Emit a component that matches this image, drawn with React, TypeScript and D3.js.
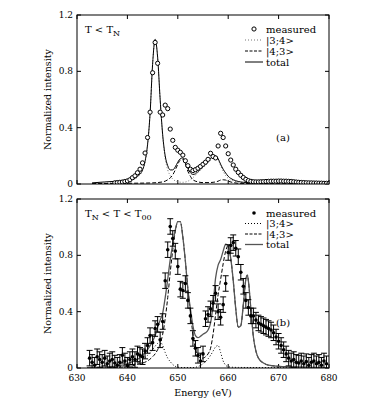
import React from "react";
import * as d3 from "d3";

// ---------- DATA ----------
const xTicks = [630, 640, 650, 660, 670, 680];
const yTicks = [0, 0.4, 0.8, 1.2];
const seriesNames = ["measured", "|3;4>", "|4;3>", "total"];

// Panel (a): T < T_N
const measuredA: [number, number][] = [
  [637.5,0.008],[638,0.01],[638.5,0.012],[639,0.014],[639.5,0.018],[640,0.022],[640.5,0.03],[641,0.045],
  [641.5,0.058],[642,0.08],[642.5,0.105],[643,0.15],[643.5,0.22],[644,0.33],[644.5,0.51],[645,0.79],
  [645.5,1.005],[646,0.857],[646.5,0.51],[647,0.49],[647.5,0.56],[648,0.535],[648.5,0.39],[649,0.31],
  [649.5,0.26],[650,0.24],[650.5,0.225],[651,0.205],[651.5,0.165],[652,0.13],[652.5,0.105],[653,0.095],
  [653.5,0.102],[654,0.112],[654.5,0.125],[655,0.14],[655.5,0.155],[656,0.175],[656.5,0.218],[657,0.195],
  [657.5,0.185],[658,0.27],[658.5,0.36],[659,0.33],[659.5,0.27],[660,0.215],[660.5,0.17],[661,0.135],
  [661.5,0.105],[662,0.082],[662.5,0.062],[663,0.046],[663.5,0.033],[664,0.024],[664.5,0.019],[665,0.016],
  [665.5,0.015],[666,0.015],[666.5,0.016],[667,0.017],[667.5,0.018],[668,0.019],[668.5,0.02],[669,0.02],
  [669.5,0.02],[670,0.021],[670.5,0.021],[671,0.02],[671.5,0.02],[672,0.019],[672.5,0.018],[673,0.016],
  [673.5,0.014],[674,0.012],[674.5,0.011],[675,0.01],[675.5,0.009],[676,0.008],[676.5,0.008],[677,0.007],
  [677.5,0.007],[678,0.006],[678.5,0.006],[679,0.005],[679.5,0.005],[680,0.005],
];
const ket34A: [number, number][] = [
  [633,0.005],[638,0.01],[640,0.018],[641,0.028],[642,0.048],[643,0.095],[643.5,0.155],[644,0.275],
  [644.5,0.5],[645,0.85],[645.5,1.025],[646,0.9],[646.5,0.6],[647,0.34],[647.5,0.18],[648,0.1],
  [648.5,0.06],[649,0.035],[649.5,0.022],[650,0.015],[651,0.012],[652,0.02],[653,0.045],[654,0.08],
  [655,0.115],[656,0.15],[656.5,0.17],[657,0.185],[657.5,0.19],[658,0.172],[658.5,0.13],[659,0.09],
  [659.5,0.06],[660,0.04],[661,0.022],[662,0.014],[664,0.008],[668,0.012],[671,0.016],[675,0.01],[680,0.005],
];
const ket43A: [number, number][] = [
  [633,0.003],[640,0.005],[645,0.008],[647,0.015],[648,0.03],[649,0.065],[649.5,0.1],[650,0.14],
  [650.5,0.17],[651,0.175],[651.5,0.14],[652,0.09],[652.5,0.055],[653,0.03],[654,0.015],[655,0.01],
  [656,0.01],[657,0.012],[658,0.02],[658.5,0.028],[659,0.03],[659.5,0.028],[660,0.02],[661,0.01],
  [662,0.005],[665,0.003],[680,0.002],
];
const totalA: [number, number][] = [
  [633,0.008],[638,0.02],[640,0.023],[641,0.033],[642,0.055],[643,0.1],[643.5,0.16],[644,0.28],
  [644.5,0.5],[645,0.85],[645.5,1.027],[646,0.9],[646.5,0.6],[647,0.35],[647.5,0.2],[648,0.13],
  [648.5,0.1],[649,0.1],[649.5,0.122],[650,0.155],[650.5,0.18],[651,0.185],[651.5,0.15],[652,0.11],
  [652.5,0.08],[653,0.068],[653.5,0.072],[654,0.088],[654.5,0.105],[655,0.125],[655.5,0.145],[656,0.162],
  [656.5,0.182],[657,0.197],[657.5,0.2],[658,0.18],[658.5,0.14],[659,0.105],[659.5,0.078],[660,0.055],
  [660.5,0.04],[661,0.03],[662,0.018],[663,0.012],[664,0.01],[666,0.012],[668,0.016],[670,0.019],
  [672,0.018],[674,0.014],[676,0.01],[680,0.006],
];

// Panel (b): T_N < T < T_00
const measuredB: [number, number][] = [
  [632.5,0.07],[633,0.04],[633.5,0.02],[634,0.08],[634.5,0.06],[635,0.04],[635.5,0.07],[636,0.03],
  [636.5,0.05],[637,0.06],[637.5,0.035],[638,0.02],[638.5,0.04],[639,0.09],[639.5,0.05],[640,0.02],
  [640.5,0.06],[641,0.08],[641.5,0.06],[642,0.1],[642.5,0.09],[643,0.08],[643.5,0.12],[644,0.16],
  [644.5,0.23],[645,0.18],[645.5,0.28],[646,0.31],[646.5,0.2],[647,0.33],[647.5,0.62],[648,0.84],
  [648.5,1.005],[649,0.92],[649.5,0.83],[650,0.72],[650.5,0.56],[651,0.55],[651.5,0.6],[652,0.48],
  [652.5,0.37],[653,0.21],[653.5,0.14],[654,0.09],[654.5,0.05],[655,0.1],[655.5,0.35],[656,0.38],
  [656.5,0.42],[657,0.46],[657.5,0.53],[658,0.4],[658.5,0.36],[659,0.45],[659.5,0.6],[660,0.82],
  [660.5,0.87],[661,0.89],[661.5,0.85],[662,0.79],[662.5,0.68],[663,0.58],[663.5,0.48],[664,0.43],
  [664.5,0.37],[665,0.37],[665.5,0.34],[666,0.32],[666.5,0.31],[667,0.3],[667.5,0.29],[668,0.28],
  [668.5,0.27],[669,0.25],[669.5,0.22],[670,0.19],[670.5,0.16],[671,0.13],[671.5,0.1],[672,0.07],
  [672.5,0.05],[673,0.06],[673.5,0.04],[674,0.035],[674.5,0.05],[675,0.03],[675.5,0.045],[676,0.02],
  [676.5,0.04],[677,0.05],[677.5,0.03],[678,0.04],[678.5,0.02],[679,0.05],[679.5,0.03],
];
const errB = 0.055;
const ket34B: [number, number][] = [
  [632,0.002],[638,0.01],[640,0.02],[642,0.04],[643,0.06],[644,0.09],[645,0.13],[645.5,0.155],
  [646,0.175],[646.5,0.185],[647,0.16],[647.5,0.11],[648,0.07],[648.5,0.045],[649,0.025],[649.5,0.012],
  [650,0.006],[651,0.003],[653,0.003],[654,0.01],[655,0.03],[656,0.065],[656.5,0.09],[657,0.12],
  [657.5,0.15],[658,0.16],[658.5,0.11],[659,0.05],[659.5,0.02],[660,0.008],[662,0.004],[680,0.002],
];
const ket43B: [number, number][] = [
  [636,0.003],[638,0.005],[640,0.01],[641,0.015],[642,0.025],[643,0.035],[644,0.05],[645,0.08],
  [645.5,0.1],[646,0.13],[646.5,0.17],[647,0.24],[647.5,0.35],[648,0.5],[648.5,0.68],[649,0.84],
  [649.5,0.97],[650,1.04],[650.5,1.04],[651,0.93],[651.5,0.76],[652,0.56],[652.5,0.4],[653,0.24],
  [653.5,0.14],[654,0.09],[654.5,0.07],[655,0.07],[655.5,0.08],[656,0.1],[656.5,0.14],[657,0.24],
  [657.5,0.38],[658,0.52],[658.5,0.63],[659,0.74],[659.5,0.83],[660,0.87],[660.5,0.78],[661,0.62],
  [661.5,0.42],[662,0.29],[662.5,0.3],[663,0.45],[663.5,0.63],[663.8,0.66],[664,0.62],[664.5,0.42],
  [665,0.22],[665.5,0.12],[666,0.07],[667,0.035],[668,0.02],[670,0.012],[672,0.008],[676,0.005],[680,0.003],
];
const totalB: [number, number][] = [
  [632,0.003],[636,0.008],[638,0.015],[640,0.03],[641,0.045],[642,0.06],[643,0.09],[644,0.13],
  [645,0.19],[645.5,0.23],[646,0.29],[646.5,0.34],[647,0.39],[647.5,0.5],[648,0.63],[648.5,0.77],
  [649,0.88],[649.5,0.98],[650,1.04],[650.5,1.04],[651,0.93],[651.5,0.76],[652,0.56],[652.5,0.42],
  [653,0.3],[653.5,0.23],[654,0.215],[654.5,0.225],[655,0.24],[655.5,0.25],[656,0.27],[656.5,0.32],
  [657,0.45],[657.5,0.64],[658,0.73],[658.5,0.77],[659,0.83],[659.5,0.88],[660,0.87],[660.5,0.78],
  [661,0.62],[661.5,0.42],[662,0.29],[662.5,0.3],[663,0.45],[663.5,0.63],[663.8,0.66],[664,0.62],
  [664.5,0.42],[665,0.22],[665.5,0.12],[666,0.07],[667,0.035],[668,0.02],[670,0.012],[672,0.008],
  [676,0.005],[680,0.003],
];

// ---------- LAYOUT ----------
const W = 382, H = 412;
const X0 = 77, X1 = 329;
const FONT = "'DejaVu Serif', 'Liberation Serif', serif";

const x = d3.scaleLinear().domain([630, 680]).range([X0, X1]);

type PanelProps = {
  top: number; bottom: number;
  measured: [number, number][];
  k34: [number, number][]; k43: [number, number][]; total: [number, number][];
  filled: boolean; showX: boolean;
  label: React.ReactNode; tag: string; tagY: number;
  legendY: number; legendDy: number; totalColor: string; totalWidth: number; dotColor: string;
};

function Panel(p: PanelProps) {
  const y = d3.scaleLinear().domain([0, 1.2]).range([p.bottom, p.top]);
  const line = d3.line<[number, number]>().x(d => x(d[0])).y(d => y(d[1])).curve(d3.curveMonotoneX);
  const tl = 4;
  const cy = (p.top + p.bottom) / 2;
  const ly = (i: number) => p.legendY + i * p.legendDy;
  return (
    <g>
      <defs>
        <clipPath id={`clip${p.top}`}>
          <rect x={X0} y={p.top} width={X1 - X0} height={p.bottom - p.top} />
        </clipPath>
      </defs>
      {yTicks.map(t => (
        <g key={"y" + t}>
          <line x1={X0} x2={X0 + tl} y1={y(t)} y2={y(t)} stroke="#000" />
          <line x1={X1} x2={X1 - tl} y1={y(t)} y2={y(t)} stroke="#000" />
          <text x={X0 - 4} y={y(t)} dy="0.35em" textAnchor="end" fontSize={9} fontFamily={FONT}>
            {t === 0 ? "0" : d3.format(".1f")(t)}
          </text>
        </g>
      ))}
      {xTicks.map(t => (
        <g key={"x" + t}>
          <line x1={x(t)} x2={x(t)} y1={p.bottom} y2={p.bottom - tl} stroke="#000" />
          <line x1={x(t)} x2={x(t)} y1={p.top} y2={p.top + tl} stroke="#000" />
          {p.showX && (
            <text x={x(t)} y={p.bottom + 13} textAnchor="middle" fontSize={9} fontFamily={FONT}>{t}</text>
          )}
        </g>
      ))}
      <text transform={`translate(48,${cy}) rotate(-90)`} textAnchor="middle" dy="0.35em" fontSize={9.5} fontFamily={FONT}>
        Normalized intensity
      </text>
      <g clipPath={`url(#clip${p.top})`}>
        <path d={line(p.k34) || ""} fill="none" stroke={p.dotColor} strokeWidth={1} strokeDasharray="1,2" />
        <path d={line(p.k43) || ""} fill="none" stroke="#000" strokeWidth={1} strokeDasharray="4,2" />
        <path d={line(p.total) || ""} fill="none" stroke={p.totalColor} strokeWidth={p.totalWidth} />
        {p.filled
          ? p.measured.map((d, i) => (
              <g key={i}>
                <line x1={x(d[0])} x2={x(d[0])} y1={y(d[1] - errB)} y2={y(d[1] + errB)} stroke="#000" strokeWidth={1} />
                <line x1={x(d[0]) - 3} x2={x(d[0]) + 3} y1={y(d[1] + errB)} y2={y(d[1] + errB)} stroke="#000" strokeWidth={1} />
                <line x1={x(d[0]) - 3} x2={x(d[0]) + 3} y1={y(d[1] - errB)} y2={y(d[1] - errB)} stroke="#000" strokeWidth={1} />
                <circle cx={x(d[0])} cy={y(d[1])} r={1.8} fill="#000" />
              </g>
            ))
          : p.measured.map((d, i) => (
              <circle key={i} cx={x(d[0])} cy={y(d[1])} r={2.1} fill="#fff" stroke="#000" strokeWidth={1} />
            ))}
      </g>
      <rect x={X0} y={p.top} width={X1 - X0} height={p.bottom - p.top} fill="none" stroke="#000" strokeWidth={1} />
      {p.filled
        ? <circle cx={254} cy={ly(0)} r={1.8} fill="#000" />
        : <circle cx={254} cy={ly(0)} r={2.1} fill="#fff" stroke="#000" />}
      <line x1={245} x2={263} y1={ly(1)} y2={ly(1)} stroke={p.dotColor} strokeDasharray="1,2" />
      <line x1={245} x2={263} y1={ly(2)} y2={ly(2)} stroke="#000" strokeDasharray="3,1.5" />
      <line x1={245} x2={263} y1={ly(3)} y2={ly(3)} stroke={p.totalColor} strokeWidth={p.totalWidth} />
      {seriesNames.map((s, i) => (
        <text key={s} x={266} y={ly(i)} dy="0.35em" fontSize={10} fontFamily={FONT}>{s}</text>
      ))}
      {p.label}
      <text x={283} y={p.tagY} dy="0.35em" textAnchor="middle" fontSize={10} fontFamily={FONT}>{p.tag}</text>
    </g>
  );
}

export default function App() {
  return (
    <svg width={W} height={H} style={{ position: "absolute", left: 0, top: 0, background: "#fff" }}>
      <rect width={W} height={H} fill="#fff" />
      <Panel
        top={15} bottom={184}
        measured={measuredA} k34={ket34A} k43={ket43A} total={totalA}
        filled={false} showX={false}
        label={
          <text x={85} y={33} fontSize={10} fontFamily={FONT}>
            T &lt; T<tspan dy={3} fontSize={8}>N</tspan>
          </text>
        }
        tag="(a)" tagY={137}
        legendY={29} legendDy={11} totalColor="#000" totalWidth={1} dotColor="#777"
      />
      <Panel
        top={199} bottom={368}
        measured={measuredB} k34={ket34B} k43={ket43B} total={totalB}
        filled={true} showX={true}
        label={
          <text x={85} y={217} fontSize={10} fontFamily={FONT}>
            T<tspan dy={3} fontSize={8}>N</tspan><tspan dy={-3}> &lt; T &lt; T</tspan><tspan dy={3} fontSize={8}>00</tspan>
          </text>
        }
        tag="(b)" tagY={322}
        legendY={213} legendDy={10.5} totalColor="#555" totalWidth={1.3} dotColor="#000"
      />
      <text x={203} y={396} textAnchor="middle" fontSize={9.5} fontFamily={FONT}>Energy (eV)</text>
    </svg>
  );
}
